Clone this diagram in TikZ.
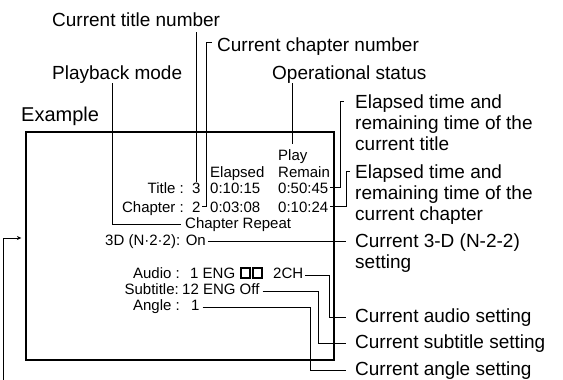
\documentclass[tikz,border=0pt]{standalone}
\usepackage{fontspec}
\setmainfont{Liberation Sans}
\usetikzlibrary{arrows.meta}
\begin{document}
\begin{tikzpicture}[x=1pt,y=-1pt,
  lbl/.style={inner sep=0pt, font=\fontsize{19}{21}\selectfont, anchor=base west},
  lblm/.style={inner sep=0pt, font=\fontsize{19}{21}\selectfont, align=left, anchor=north west},
  scr/.style={inner sep=0pt, font=\fontsize{15}{17}\selectfont, anchor=base west},
  scrk/.style={scr, anchor=base east},
  conn/.style={line width=0.9pt},
  screenbox/.style={draw, line width=1.3pt, minimum width=308pt, minimum height=228pt, inner sep=0pt},
  dsq/.style={draw, line width=2pt, minimum width=9pt, minimum height=10pt, inner sep=0pt}]
\useasboundingbox (0,0) rectangle (563,380);

% screen
\node[screenbox] (scr) at (180,246) {};

% top labels
\node[lbl] (ctn) at (52,27) {Current title number};
\node[lbl] (ccn) at (217,52) {Current chapter number};
\node[lbl] (pbm) at (52,79) {Playback mode};
\node[lbl] (ops) at (272,79) {Operational status};
\node[lbl, font=\fontsize{20}{22}\selectfont] (ex) at (21,121) {Example};

% right labels
\node[lblm] (el1) at (355,94.4) {Elapsed time and\\remaining time of the\\current title};
\node[lblm] (el2) at (355,164.4) {Elapsed time and\\remaining time of the\\current chapter};
\node[lblm] (c3d) at (355,233.2) {Current 3-D (N-2-2)\\setting};
\node[lbl] (laud) at (355,322) {Current audio setting};
\node[lbl] (lsub) at (355,348) {Current subtitle setting};
\node[lbl] (lang) at (355,375) {Current angle setting};

% screen contents
\node[scr] (play) at (278,160) {Play};
\node[scr] (elap) at (210,177) {Elapsed};
\node[scr] (rem) at (278,177) {Remain};
\node[scrk] (ktitle) at (184,193) {Title :};
\node[scr] (v3) at (192,193) {3};
\node[scr] (t10) at (210,193) {0:10:15};
\node[scr] (t50) at (278,193) {0:50:45};
\node[scrk] (kchap) at (184,212) {Chapter :};
\node[scr] (v2) at (192,212) {2};
\node[scr] (t03) at (210,212) {0:03:08};
\node[scr] (t1024) at (278,212) {0:10:24};
\node[scr] (rep) at (185,228) {Chapter Repeat};
\node[scr] (d3) at (105,245) {3D (N·2·2): On};
\node[scrk] (kaud) at (180,278) {Audio :};
\node[scr] (eng1) at (190,278) {1 ENG};
\node[dsq] (sq1) at (245.5,273) {};
\node[dsq] (sq2) at (257.5,273) {};
\node[scr] (ch2) at (273,278) {2CH};
\node[scrk] (ksub) at (179,294) {Subtitle:};
\node[scr] (off) at (182,294) {12 ENG Off};
\node[scrk] (kang) at (180,310) {Angle :};
\node[scr] (ang1) at (191,310) {1};

% connectors from top
\coordinate (ctnb) at ([yshift=-5pt]ctn.south);
\draw[conn] (v3.north |- ctnb) -- (v3.north);
\coordinate (cct) at ([xshift=-5pt,yshift=5pt]ccn.west);
\draw[conn] (cct) -- ++(-6,0) |- ([xshift=1pt]v2.east);
\draw[conn] ([xshift=-5pt]pbm.south) |- ([xshift=-4pt]rep.west);
\draw[conn] (play.north |- ops.south) -- ([yshift=5pt]play.north);

% connectors to right
\coordinate (tbTop) at ([xshift=-15pt,yshift=-7pt]el1.north west);
\draw[conn] ([xshift=2pt]t50.east) -| (tbTop) -- ++(4,0);
\coordinate (cbTop) at ([xshift=-9pt,yshift=-7pt]el2.north west);
\draw[conn] ([xshift=2pt]t1024.east) -| (cbTop) -- ++(4,0);
\coordinate (c3dIn) at ([xshift=-9pt]c3d.north west);
\draw[conn] ([xshift=2pt]d3.east) -- (d3.east -| c3dIn);
\draw[conn] ([xshift=2pt,yshift=-3pt]ch2.east) -- ++(24,0) |- ([xshift=-9pt]laud.west);
\draw[conn] ([xshift=3pt,yshift=-3pt]off.east) -- ++(56,0) |- ([xshift=-9pt]lsub.west);
\draw[conn] ([xshift=3pt,yshift=-3pt]ang1.east) -- ++(108,0) |- ([xshift=-9pt]lang.west);

% outer arrow
\coordinate (arrS) at (3,380);
\coordinate (arrE) at ([xshift=-4pt,yshift=8pt]scr.west);
\draw[conn,-{Stealth[length=4.5pt,width=4pt]}] (arrS) |- (arrE);
\end{tikzpicture}
\end{document}
